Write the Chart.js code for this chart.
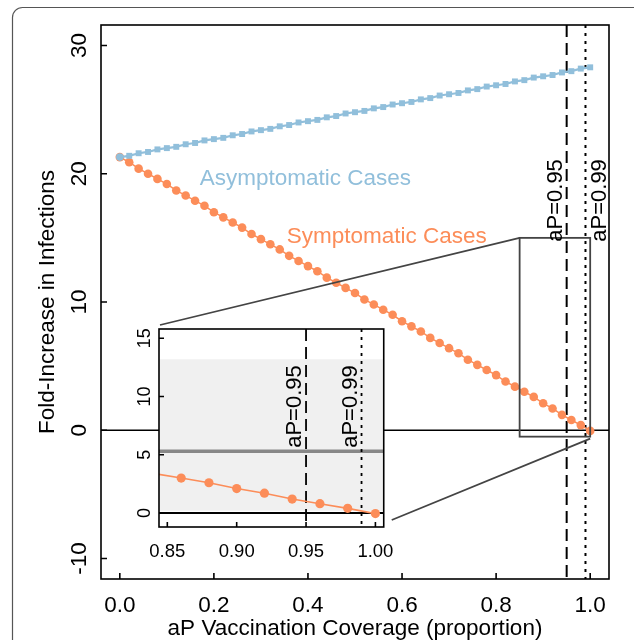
<!DOCTYPE html>
<html>
<head>
<meta charset="utf-8">
<script src="https://cdn.jsdelivr.net/npm/chart.js@4.4.1/dist/chart.umd.min.js"></script>
<style>
  html, body { margin: 0; padding: 0; background: #fff; }
  #wrap { position: relative; width: 634px; height: 640px; overflow: hidden; }
  #main { position: absolute; left: 0; top: 0; }
  #inset { position: absolute; left: 120px; top: 320px; }
</style>
</head>
<body>
<div id="wrap">
  <canvas id="main" width="634" height="640"></canvas>
  <canvas id="inset" width="280" height="250"></canvas>
</div>
<script>
// aP vaccination coverage (proportion)
const coverage = [0.00, 0.02, 0.04, 0.06, 0.08, 0.10, 0.12, 0.14, 0.16, 0.18,
  0.20, 0.22, 0.24, 0.26, 0.28, 0.30, 0.32, 0.34, 0.36, 0.38,
  0.40, 0.42, 0.44, 0.46, 0.48, 0.50, 0.52, 0.54, 0.56, 0.58,
  0.60, 0.62, 0.64, 0.66, 0.68, 0.70, 0.72, 0.74, 0.76, 0.78,
  0.80, 0.82, 0.84, 0.86, 0.88, 0.90, 0.92, 0.94, 0.96, 0.98, 1.00];

// fold-increase in infections
const asymptomatic = [21.3, 21.4, 21.6, 21.7, 21.9, 22.0, 22.1, 22.3, 22.4, 22.6,
  22.7, 22.8, 23.0, 23.1, 23.3, 23.4, 23.5, 23.7, 23.8, 24.0,
  24.1, 24.2, 24.4, 24.5, 24.7, 24.8, 24.9, 25.1, 25.2, 25.4,
  25.5, 25.6, 25.8, 25.9, 26.1, 26.2, 26.3, 26.5, 26.6, 26.8,
  26.9, 27.0, 27.2, 27.3, 27.5, 27.6, 27.7, 27.9, 28.0, 28.2, 28.3];
const symptomatic = [21.3, 20.9, 20.4, 20.0, 19.6, 19.2, 18.7, 18.3, 17.9, 17.5,
  17.0, 16.6, 16.2, 15.8, 15.3, 14.9, 14.5, 14.1, 13.6, 13.2,
  12.8, 12.4, 11.9, 11.5, 11.1, 10.7, 10.2, 9.8, 9.4, 9.0,
  8.5, 8.1, 7.7, 7.2, 6.8, 6.4, 6.0, 5.5, 5.1, 4.7,
  4.3, 3.8, 3.4, 3.0, 2.6, 2.1, 1.7, 1.2, 0.8, 0.4, -0.05];

const seriesNames = ['Asymptomatic Cases', 'Symptomatic Cases'];

const mainXTicks = [0, 0.2, 0.4, 0.6, 0.8, 1.0];
const mainXTickLabels = ['0.0', '0.2', '0.4', '0.6', '0.8', '1.0'];
const mainYTicks = [-10, 0, 10, 20, 30];
const mainYTickLabels = ['-10', '0', '10', '20', '30'];

const insetXTicks = [0.85, 0.90, 0.95, 1.00];
const insetXTickLabels = ['0.85', '0.90', '0.95', '1.00'];
const insetYTicks = [0, 5, 10, 15];
const insetYTickLabels = ['0', '5', '10', '15'];

const thresholds = [0.95, 0.99];
const thresholdLabels = ['aP=0.95', 'aP=0.99'];

// region of the main plot shown in the inset
const zoomX = [0.85, 1.0];
const zoomY = [-0.5, 15];
// shaded band and grey reference level in the inset
const insetBand = [0.2, 13.2];
const insetLevel = [5.3];

const FONT = '"Liberation Sans", Arial, Helvetica, sans-serif';
const BLUE = '#91bfdb';
const ORANGE = '#fc8d59';

Chart.defaults.font.family = FONT;
Chart.defaults.color = '#000';

function pts(ys) {
  return coverage.map((x, i) => ({ x: x, y: ys[i] }));
}

function vline(ctx, area, px, dash, width) {
  ctx.save();
  ctx.strokeStyle = '#000';
  ctx.lineWidth = width;
  ctx.setLineDash(dash);
  ctx.beginPath();
  ctx.moveTo(px, area.top);
  ctx.lineTo(px, area.bottom);
  ctx.stroke();
  ctx.restore();
}

function hline(ctx, area, py, color, width) {
  ctx.save();
  ctx.strokeStyle = color;
  ctx.lineWidth = width;
  ctx.beginPath();
  ctx.moveTo(area.left, py);
  ctx.lineTo(area.right, py);
  ctx.stroke();
  ctx.restore();
}

function rotText(ctx, text, x, y, font, align, baseline) {
  ctx.save();
  ctx.translate(x, y);
  ctx.rotate(-Math.PI / 2);
  ctx.font = font;
  ctx.fillStyle = '#000';
  ctx.textAlign = align;
  ctx.textBaseline = baseline;
  ctx.fillText(text, 0, 0);
  ctx.restore();
}

// frame, inward ticks and rotated y labels in R style
function frameAndTicks(chart, xTicks, yTicks, yLabels, yFont, yGap, tickLen) {
  const ctx = chart.ctx, a = chart.chartArea;
  const xs = chart.scales.x, ys = chart.scales.y;
  ctx.save();
  ctx.strokeStyle = '#000';
  ctx.lineWidth = 1.6;
  ctx.strokeRect(a.left, a.top, a.right - a.left, a.bottom - a.top);
  ctx.beginPath();
  xTicks.forEach(v => {
    const px = xs.getPixelForValue(v);
    ctx.moveTo(px, a.bottom);
    ctx.lineTo(px, a.bottom - tickLen);
  });
  yTicks.forEach(v => {
    const py = ys.getPixelForValue(v);
    ctx.moveTo(a.left, py);
    ctx.lineTo(a.left + tickLen, py);
  });
  ctx.stroke();
  ctx.restore();
  yTicks.forEach((v, i) => {
    rotText(ctx, yLabels[i], a.left - yGap, ys.getPixelForValue(v), yFont, 'center', 'middle');
  });
}

const mainPlugin = {
  id: 'mainDecor',
  beforeDraw(chart) {
    const ctx = chart.ctx;
    ctx.save();
    ctx.fillStyle = '#fff';
    ctx.fillRect(0, 0, chart.width, chart.height);
    // rounded figure border
    ctx.strokeStyle = '#555';
    ctx.lineWidth = 1.2;
    ctx.beginPath();
    ctx.roundRect(12.5, 7.5, 700, 700, 10);
    ctx.stroke();
    ctx.restore();
  },
  beforeDatasetsDraw(chart) {
    const ctx = chart.ctx, a = chart.chartArea;
    const xs = chart.scales.x, ys = chart.scales.y;
    hline(ctx, a, ys.getPixelForValue(0), '#000', 1.6);
    vline(ctx, a, xs.getPixelForValue(thresholds[0]), [12, 6], 2);
    vline(ctx, a, xs.getPixelForValue(thresholds[1]), [3, 5], 2);
  },
  afterDatasetsDraw(chart) {
    const ctx = chart.ctx;
    const xs = chart.scales.x, ys = chart.scales.y;
    const x0 = xs.getPixelForValue(zoomX[0]), x1 = xs.getPixelForValue(zoomX[1]);
    const y0 = ys.getPixelForValue(zoomY[0]), y1 = ys.getPixelForValue(zoomY[1]);

    // zoom box and connectors to the inset
    const ins = insetChart ? insetChart.chartArea : null;
    const off = document.getElementById('inset');
    ctx.save();
    ctx.strokeStyle = '#444';
    ctx.lineWidth = 1.8;
    ctx.strokeRect(x0, y1, x1 - x0, y0 - y1);
    if (ins) {
      const ox = off.offsetLeft, oy = off.offsetTop;
      ctx.beginPath();
      ctx.moveTo(x0, y1);
      ctx.lineTo(ox + ins.left + 1, oy + ins.top - 4);
      ctx.moveTo(x1, y0 + 2);
      ctx.lineTo(ox + ins.right + 8, oy + ins.bottom - 7);
      ctx.stroke();
    }
    ctx.restore();

    // series labels
    ctx.save();
    ctx.font = '22.5px ' + FONT;
    ctx.textAlign = 'left';
    ctx.textBaseline = 'middle';
    ctx.fillStyle = BLUE;
    ctx.fillText(seriesNames[0], xs.getPixelForValue(0.17), ys.getPixelForValue(19.6));
    ctx.fillStyle = ORANGE;
    ctx.fillText(seriesNames[1], xs.getPixelForValue(0.355), ys.getPixelForValue(15.05));
    ctx.restore();

    // threshold labels
    const ly = ys.getPixelForValue(14.7);
    rotText(ctx, thresholdLabels[0], xs.getPixelForValue(thresholds[0]) - 5, ly, '22px ' + FONT, 'left', 'alphabetic');
    rotText(ctx, thresholdLabels[1], xs.getPixelForValue(thresholds[1]) + 21, ly, '22px ' + FONT, 'left', 'alphabetic');

    frameAndTicks(chart, mainXTicks, mainYTicks, mainYTickLabels, '22.5px ' + FONT, 21, 6);
  }
};

const insetPlugin = {
  id: 'insetDecor',
  beforeDatasetsDraw(chart) {
    const ctx = chart.ctx, a = chart.chartArea;
    const xs = chart.scales.x, ys = chart.scales.y;
    ctx.save();
    ctx.fillStyle = '#fff';
    ctx.fillRect(a.left, a.top, a.right - a.left, a.bottom - a.top);
    const b1 = ys.getPixelForValue(insetBand[1]), b0 = ys.getPixelForValue(insetBand[0]);
    ctx.fillStyle = '#f0f0f0';
    ctx.fillRect(a.left, b1, a.right - a.left, b0 - b1);
    ctx.restore();
    hline(ctx, a, ys.getPixelForValue(insetLevel[0]), '#888', 3.5);
    hline(ctx, a, ys.getPixelForValue(0), '#000', 2);
    vline(ctx, a, xs.getPixelForValue(thresholds[0]), [12, 6], 1.8);
    vline(ctx, a, xs.getPixelForValue(thresholds[1]), [3, 5], 1.8);
  },
  afterDatasetsDraw(chart) {
    const ctx = chart.ctx;
    const xs = chart.scales.x, ys = chart.scales.y;
    const ly = ys.getPixelForValue(5.6);
    thresholds.forEach((t, i) => {
      rotText(ctx, thresholdLabels[i], xs.getPixelForValue(t) - 5, ly, '22px ' + FONT, 'left', 'alphabetic');
    });
    frameAndTicks(chart, insetXTicks, insetYTicks, insetYTickLabels, '18px ' + FONT, 14, 5);
  }
};

let insetChart = null;

const mainChart = new Chart(document.getElementById('main'), {
  type: 'line',
  data: {
    datasets: [{
      label: seriesNames[0],
      data: pts(asymptomatic),
      borderColor: BLUE,
      backgroundColor: BLUE,
      borderWidth: 2.2,
      pointStyle: ctx => ctx.dataIndex === 0 ? 'circle' : 'rect',
      pointRadius: ctx => ctx.dataIndex === 0 ? 3.8 : 4.2,
      pointBorderWidth: 0,
      tension: 0
    }, {
      label: seriesNames[1],
      data: pts(symptomatic),
      borderColor: ORANGE,
      backgroundColor: ORANGE,
      borderWidth: 1.5,
      pointRadius: 4.3,
      pointBorderWidth: 0,
      tension: 0
    }]
  },
  options: {
    responsive: false,
    animation: false,
    events: [],
    layout: { padding: { top: 25, right: 25, left: 0, bottom: 0 } },
    plugins: { legend: { display: false }, tooltip: { enabled: false } },
    scales: {
      x: {
        type: 'linear',
        min: -0.04,
        max: 1.04,
        grid: { display: false },
        border: { display: false },
        afterBuildTicks: s => { s.ticks = mainXTicks.map(v => ({ value: v })); },
        afterFit: s => { s.height = 61; },
        ticks: {
          autoSkip: false,
          maxRotation: 0,
          padding: 5,
          font: { size: 22.5 },
          callback: (v, i) => mainXTickLabels[i]
        },
        title: {
          display: true,
          text: 'aP Vaccination Coverage (proportion)',
          font: { size: 22.5, lineHeight: 1 },
          padding: { top: 0, bottom: 0 }
        }
      },
      y: {
        type: 'linear',
        min: -11.6,
        max: 31.6,
        grid: { display: false },
        border: { display: false },
        ticks: { display: false },
        afterFit: s => { s.width = 101; },
        title: {
          display: true,
          text: 'Fold-Increase in Infections',
          font: { size: 22.5, lineHeight: 1 },
          padding: { top: 37, bottom: 0 }
        }
      }
    }
  },
  plugins: [mainPlugin]
});

insetChart = new Chart(document.getElementById('inset'), {
  type: 'line',
  data: {
    datasets: [{
      label: seriesNames[1],
      data: pts(symptomatic),
      borderColor: ORANGE,
      backgroundColor: ORANGE,
      borderWidth: 1.6,
      pointRadius: 4.6,
      pointBorderWidth: 0,
      clip: 0,
      tension: 0
    }]
  },
  options: {
    responsive: false,
    animation: false,
    events: [],
    layout: { padding: { top: 9, right: 16, left: 0, bottom: 0 } },
    plugins: { legend: { display: false }, tooltip: { enabled: false } },
    scales: {
      x: {
        type: 'linear',
        min: 0.844,
        max: 1.006,
        grid: { display: false },
        border: { display: false },
        afterBuildTicks: s => { s.ticks = insetXTicks.map(v => ({ value: v })); },
        afterFit: s => { s.height = 43; },
        ticks: {
          autoSkip: false,
          maxRotation: 0,
          padding: 6,
          font: { size: 18.5 },
          callback: (v, i) => insetXTickLabels[i]
        }
      },
      y: {
        type: 'linear',
        min: -1.2,
        max: 15.8,
        grid: { display: false },
        border: { display: false },
        ticks: { display: false },
        afterFit: s => { s.width = 39; }
      }
    }
  },
  plugins: [insetPlugin]
});

// redraw main so the connectors can use the inset's chart area
mainChart.draw();
</script>
</body>
</html>
